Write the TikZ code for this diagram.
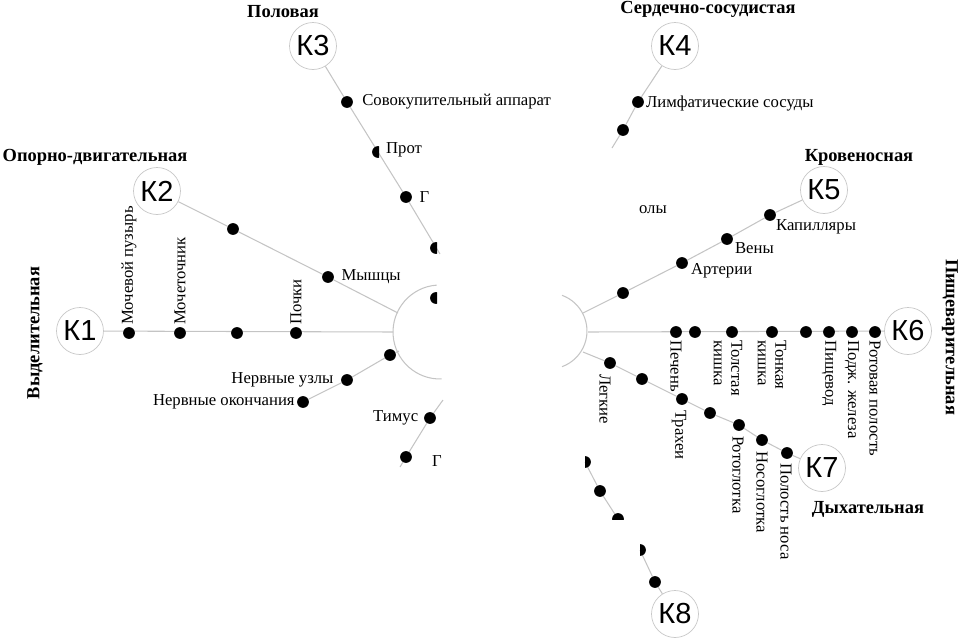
\documentclass[tikz,border=0pt]{standalone}
\usepackage{fontspec}
\setmainfont{Liberation Serif}
\newfontfamily\ksans{Liberation Sans}
\usetikzlibrary{positioning, backgrounds}
\definecolor{linegray}{HTML}{C4C4C4}
\definecolor{ringgray}{HTML}{C8C8C8}

\begin{document}
\begin{tikzpicture}[
    x=0.02cm, y=-0.02cm,
    organ/.style={circle, fill=black, inner sep=0pt, minimum size=0.235cm},
    sysnode/.style={circle, draw=ringgray, fill=white, thin, minimum size=0.94cm, inner sep=0pt, font=\ksans\fontsize{16.5}{16.5}\selectfont},
    link/.style={draw=linegray, line width=0.6pt},
    lbl/.style={font=\fontsize{9.5}{10}\selectfont, inner sep=1pt},
    uplbl/.style={lbl, rotate=90, anchor=west},
    downlbl/.style={lbl, rotate=-90, anchor=west, align=left},
    systitle/.style={font=\bfseries\fontsize{10.5}{11}\selectfont, inner sep=0pt}
]
\useasboundingbox (0,0) rectangle (958,640);

% systems
\node[sysnode] (K1) at (80,331) {К1};
\node[sysnode] (K2) at (157,191) {К2};
\node[sysnode] (K3) at (313,46) {К3};
\node[sysnode] (K4) at (675,46) {К4};
\node[sysnode] (K5) at (824,190) {К5};
\node[sysnode] (K6) at (908,331) {К6};
\node[sysnode] (K7) at (822,468) {К7};
\node[sysnode] (K8) at (675,614) {К8};

\node[systitle, rotate=90] at (35,333) {Выделительная};
\node[systitle] at (95,157) {Опорно-двигательная};
\node[systitle] at (283,12) {Половая};
\node[systitle] at (708,9) {Сердечно-сосудистая};
\node[systitle] at (859,157) {Кровеносная};
\node[systitle, rotate=-90] at (950,337) {Пищеварительная};
\node[systitle] at (868,509) {Дыхательная};

% hub
\coordinate (hubL) at (440,332);
\coordinate (hubR) at (549,331);
\draw[link] (hubL) ++(94:0.94cm) arc[start angle=94, end angle=272, radius=0.94cm];
\draw[link] (hubR) ++(70:0.76cm) arc[start angle=70, end angle=-70, radius=0.76cm];
\coordinate (a1) at (393,332);
\coordinate (a2) at (398,313);
\coordinate (a9) at (399,351);
\coordinate (a5) at (583,313);
\coordinate (a6) at (588,332);
\coordinate (a7) at (583,352);

% K1
\node[organ] (d11) at (129,333) {};
\node[organ] (d12) at (180,333) {};
\node[organ] (d13) at (237,333) {};
\node[organ] (d14) at (296,333) {};
\node[uplbl] at (d11.north) {Мочевой пузырь};
\node[uplbl] at (d12.north) {Мочеточник};
\node[uplbl] at (d14.north) {Почки};

% K2
\node[organ] (d21) at (233,229) {};
\node[organ] (d22) at (328,277) {};
\node[lbl, right=3pt of d22] {Мышцы};

% K3
\node[organ] (d31) at (347,102) {};
\begin{scope}
  \clip (360,140) rectangle (379,165);
  \node[organ] (d32) at (378,152) {};
\end{scope}
\node[organ] (d33) at (406,197) {};
\begin{scope}
  \clip (420,235) rectangle (437,262);
  \node[organ] (d34) at (436,248) {};
\end{scope}
\begin{scope}
  \clip (420,285) rectangle (437,312);
  \node[organ] (d35) at (436,298) {};
\end{scope}
\coordinate (e3) at (440,254);
\node[lbl, right=4pt of d31] {Совокупительный аппарат};
\node[lbl, anchor=west] at (384,150) {Прот};
\node[lbl, right=3pt of d33] {Г};

% nerves
\node[organ] (d91) at (390,355) {};
\node[organ] (d92) at (347,380) {};
\node[organ] (d93) at (303,402) {};
\node[lbl, left=3pt of d92] {Нервные узлы};
\node[lbl, left=0pt of d93] {Нервные окончания};

% glands
\coordinate (s1) at (443,400);
\node[organ] (dg1) at (430,418) {};
\node[organ] (dg2) at (406,457) {};
\coordinate (s2) at (400,467);
\node[lbl, left=2pt of dg1] {Тимус};
\node[lbl, anchor=west] at (430,461) {Г};

% K4
\node[organ] (d41) at (638,102) {};
\node[organ] (d42) at (623,130) {};
\coordinate (e4) at (612,148);
\node[lbl, anchor=west] at (644,104) {Лимфатические сосуды};
\node[lbl, anchor=west] at (637,210) {олы};

% K5
\node[organ] (d51) at (770,215) {};
\node[organ] (d52) at (727,239) {};
\node[organ] (d53) at (682,263) {};
\node[organ] (d54) at (623,293) {};
\node[lbl, anchor=west] at (774,227) {Капилляры};
\node[lbl, anchor=west] at (733,248) {Вены};
\node[lbl, anchor=west] at (689,271) {Артерии};

% K6
\node[organ] (d61) at (676,332) {};
\node[organ] (d62) at (695,332) {};
\node[organ] (d63) at (732,332) {};
\node[organ] (d64) at (772,332) {};
\node[organ] (d65) at (806,332) {};
\node[organ] (d66) at (829,332) {};
\node[organ] (d67) at (852,332) {};
\node[organ] (d68) at (875,332) {};
\node[downlbl] at (d61.south) {Печень};
\node[downlbl] at ([xshift=-0.08cm]d63.south) {Толстая\\кишка};
\node[downlbl] at (d64.south) {Тонкая\\кишка};
\node[downlbl] at (d66.south) {Пищевод};
\node[downlbl] at (d67.south) {Подж. железа};
\node[downlbl] at (d68.south) {Ротовая полость};

% K7
\node[organ] (d71) at (610,363) {};
\node[organ] (d72) at (642,379) {};
\node[organ] (d73) at (682,399) {};
\node[organ] (d74) at (710,413) {};
\node[organ] (d75) at (739,425) {};
\node[organ] (d76) at (762,440) {};
\node[organ] (d77) at (787,453) {};
\node[downlbl] at (605,372) {Легкие};
\node[downlbl] at (679,408) {Трахеи};
\node[downlbl] at (738,434) {Ротоглотка};
\node[downlbl] at (762,449) {Носоглотка};
\node[downlbl] at (786,461) {Полость носа};

% K8
\begin{scope}
  \clip (585,450) rectangle (600,475);
  \node[organ] (d81) at (585,462) {};
\end{scope}
\node[organ] (d82) at (600,491) {};
\begin{scope}
  \clip (605,505) rectangle (630,519);
  \node[organ] (d83) at (618,519) {};
\end{scope}
\begin{scope}
  \clip (640,538) rectangle (655,562);
  \node[organ] (d84) at (640,550) {};
\end{scope}
\node[organ] (d85) at (655,582) {};

\begin{scope}[on background layer]
\draw[link] (K1) -- (a1);
\draw[link] (K2) -- (d21) -- (d22) -- (a2);
\draw[link] (K3) -- (d31) -- (d32.center) -- (d33) -- (e3);
\draw[link] (a9) -- (d91) -- (d92) -- (d93);
\draw[link] (s1) -- (dg1) -- (dg2) -- (s2);
\draw[link] (K4) -- (d41) -- (d42) -- (e4);
\draw[link] (K5) -- (d51) -- (d52) -- (d53) -- (d54) -- (a5);
\draw[link] (a6) -- (K6);
\draw[link] (a7) -- (d71) -- (d72) -- (d73) -- (d74) -- (d75) -- (d76) -- (d77) -- (K7);
\draw[link] (d81.center) -- (d82) -- (d83.center);
\draw[link] (d84.center) -- (d85) -- (K8);
\end{scope}
\end{tikzpicture}
\end{document}
